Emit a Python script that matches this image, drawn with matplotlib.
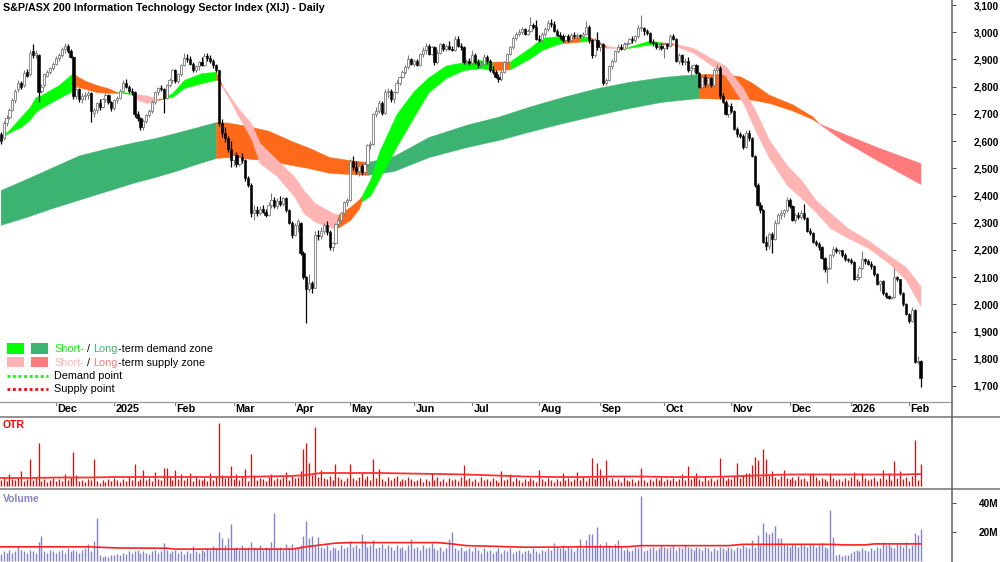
import numpy as np
import pandas as pd
import matplotlib
matplotlib.use('Agg')
import matplotlib.pyplot as plt
from matplotlib import font_manager
from matplotlib.lines import Line2D
from matplotlib.patches import Rectangle

# ---------------- data ----------------
title = "S&P/ASX 200 Information Technology Sector Index (XIJ) - Daily"
start_date, end_date = '2024-11-05', '2026-02-06'
asx_holidays = ['2024-12-25', '2024-12-26', '2025-01-01', '2025-01-27', '2025-04-18',
                '2025-04-21', '2025-04-25', '2025-06-09', '2025-12-25', '2025-12-26',
                '2026-01-01', '2026-01-26']

opens = [2625,2610,2665,2690,2715,2750,2790,2815,2805,2855,
         2845,2930,2915,2915,2785,2805,2840,2855,2868,2885,
         2905,2915,2940,2950,2930,2910,2765,2790,2755,2765,
         2770,2775,2705,2715,2740,2725,2755,2770,2745,2720,
         2750,2760,2785,2815,2800,2785,2780,2700,2685,2650,
         2672,2695,2712,2745,2780,2795,2790,2760,2805,2825,
         2860,2820,2845,2880,2905,2900,2885,2860,2875,2890,
         2880,2912,2905,2895,2880,2860,2665,2630,2610,2570,
         2530,2550,2515,2540,2530,2465,2440,2335,2345,2335,
         2350,2340,2330,2365,2385,2360,2380,2370,2390,2345,
         2300,2255,2290,2300,2190,2100,2055,2080,2060,2255,
         2250,2270,2290,2265,2210,2225,2295,2310,2335,2375,
         2385,2525,2505,2490,2510,2485,2515,2585,2590,2700,
         2712,2740,2705,2780,2785,2755,2780,2815,2835,2855,
         2872,2900,2885,2895,2880,2920,2935,2950,2920,2945,
         2890,2925,2955,2938,2950,2940,2935,2975,2950,2945,
         2890,2895,2888,2915,2890,2880,2885,2910,2895,2860,
         2855,2835,2828,2855,2890,2920,2945,2980,2995,3000,
         3010,2995,3005,3025,3020,2975,2970,2995,3012,3035,
         3030,3005,2990,2985,2972,2985,2970,2990,2985,2990,
         2985,2995,3020,2970,2915,2970,2945,2955,2815,2825,
         2875,2895,2930,2945,2940,2955,2960,2975,2970,2985,
         3015,3015,3005,2998,2965,2960,2945,2950,2942,2955,
         2950,2985,2975,2895,2915,2890,2895,2862,2870,2880,
         2850,2800,2835,2810,2830,2805,2860,2870,2765,2745,
         2700,2730,2710,2645,2625,2620,2578,2630,2610,2545,
         2440,2365,2345,2230,2215,2260,2240,2300,2330,2335,
         2345,2385,2360,2310,2330,2320,2335,2318,2270,2262,
         2230,2222,2210,2170,2130,2135,2180,2205,2195,2198,
         2180,2165,2162,2155,2095,2100,2135,2165,2160,2150,
         2140,2110,2075,2085,2040,2030,2025,2028,2100,2092,
         2040,2000,1965,1940,1980,1790,1792]

highs = [2635,2672,2695,2722,2760,2790,2825,2822,2860,2865,
         2935,2955,2935,2920,2810,2850,2862,2872,2892,2912,
         2925,2945,2962,2955,2938,2912,2795,2795,2775,2780,
         2785,2780,2720,2745,2755,2760,2775,2772,2748,2755,
         2765,2790,2825,2828,2805,2795,2785,2712,2690,2680,
         2700,2718,2750,2785,2800,2805,2795,2810,2830,2865,
         2865,2850,2885,2925,2920,2912,2890,2880,2895,2910,
         2922,2925,2915,2900,2885,2862,2680,2650,2620,2600,
         2560,2560,2545,2555,2535,2470,2445,2365,2360,2360,
         2365,2350,2375,2410,2395,2390,2400,2395,2395,2350,
         2305,2300,2315,2302,2195,2105,2110,2085,2270,2275,
         2285,2300,2305,2275,2230,2300,2320,2340,2380,2390,
         2535,2545,2525,2520,2515,2525,2590,2600,2705,2725,
         2750,2748,2790,2795,2790,2785,2825,2840,2860,2880,
         2915,2905,2900,2900,2925,2945,2960,2955,2950,2950,
         2935,2962,2960,2955,2968,2950,2985,2985,2960,2950,
         2900,2905,2935,2925,2900,2895,2920,2915,2900,2875,
         2860,2845,2860,2895,2925,2950,2985,3000,3010,3018,
         3015,3012,3055,3035,3045,2990,3000,3018,3045,3048,
         3040,3010,3000,2995,2990,2992,2998,3000,2998,2995,
         3000,3040,3025,2975,2980,3000,2965,2960,2830,2880,
         2900,2935,2955,2955,2965,2965,2980,2985,2990,3025,
         3062,3020,3010,3000,2975,2965,2960,2962,2960,2962,
         2995,2995,2978,2925,2920,2905,2910,2880,2885,2885,
         2855,2840,2845,2835,2835,2870,2885,2875,2775,2750,
         2735,2740,2715,2650,2635,2625,2640,2640,2615,2550,
         2445,2375,2350,2250,2265,2265,2310,2335,2345,2350,
         2395,2390,2365,2335,2340,2345,2370,2320,2280,2265,
         2235,2228,2215,2175,2140,2185,2215,2212,2205,2200,
         2190,2172,2170,2160,2110,2140,2195,2170,2168,2160,
         2145,2115,2090,2090,2045,2035,2030,2135,2105,2095,
         2045,2005,1970,1990,1982,1810,1795]

lows = [2590,2605,2655,2680,2710,2740,2780,2790,2800,2835,
        2840,2905,2905,2745,2775,2800,2835,2845,2860,2880,
        2895,2910,2925,2925,2905,2755,2755,2745,2740,2750,
        2755,2670,2690,2705,2715,2720,2745,2735,2710,2715,
        2740,2755,2780,2795,2775,2770,2690,2675,2640,2640,
        2665,2690,2705,2735,2770,2785,2705,2755,2800,2815,
        2815,2815,2840,2875,2890,2880,2855,2852,2860,2875,
        2875,2895,2888,2870,2855,2655,2615,2595,2560,2505,
        2510,2505,2510,2520,2455,2430,2320,2310,2325,2330,
        2335,2320,2325,2355,2355,2350,2360,2360,2340,2295,
        2245,2250,2265,2180,2095,1930,2045,2040,2060,2235,
        2240,2260,2255,2200,2195,2220,2285,2300,2330,2360,
        2380,2495,2480,2470,2475,2475,2505,2570,2585,2690,
        2705,2695,2700,2760,2745,2740,2775,2805,2830,2845,
        2865,2880,2875,2875,2875,2910,2920,2915,2915,2880,
        2885,2920,2930,2930,2935,2930,2930,2945,2935,2885,
        2880,2880,2880,2885,2870,2870,2880,2885,2855,2845,
        2830,2818,2822,2850,2885,2915,2940,2970,2985,2992,
        2990,2988,3000,3010,2970,2965,2962,2985,3005,3020,
        3000,2985,2975,2965,2965,2965,2965,2980,2975,2978,
        2980,2990,2960,2905,2910,2935,2930,2805,2805,2820,
        2865,2890,2925,2935,2935,2945,2955,2962,2965,2980,
        3005,2990,2990,2960,2950,2940,2935,2935,2905,2940,
        2945,2970,2890,2885,2880,2880,2855,2830,2855,2845,
        2795,2795,2800,2795,2800,2800,2850,2755,2740,2695,
        2690,2705,2640,2615,2610,2570,2575,2600,2540,2430,
        2360,2335,2225,2200,2205,2190,2235,2295,2315,2320,
        2340,2355,2305,2300,2315,2315,2310,2265,2255,2225,
        2215,2200,2165,2120,2078,2130,2175,2190,2185,2175,
        2160,2155,2150,2090,2085,2095,2130,2150,2145,2130,
        2105,2070,2050,2035,2025,2018,2020,2025,2085,2035,
        1995,1960,1930,1935,1785,1780,1697]

closes = [2600,2665,2685,2715,2750,2785,2815,2800,2850,2840,
          2925,2915,2925,2780,2800,2845,2855,2868,2885,2905,
          2915,2940,2948,2930,2910,2765,2790,2755,2765,2770,
          2775,2710,2715,2740,2725,2755,2770,2745,2720,2750,
          2760,2785,2815,2800,2785,2780,2700,2685,2650,2672,
          2695,2712,2745,2780,2795,2790,2760,2805,2825,2860,
          2820,2845,2880,2905,2900,2885,2860,2875,2890,2880,
          2912,2905,2895,2880,2860,2665,2630,2610,2570,2530,
          2550,2515,2540,2530,2465,2440,2335,2345,2335,2350,
          2340,2330,2365,2385,2360,2380,2370,2390,2345,2300,
          2255,2290,2305,2190,2100,2055,2080,2060,2255,2250,
          2270,2290,2265,2210,2225,2295,2310,2335,2375,2385,
          2525,2505,2490,2510,2485,2515,2585,2590,2700,2712,
          2740,2705,2780,2785,2755,2780,2815,2835,2855,2872,
          2900,2885,2895,2880,2920,2935,2950,2920,2945,2890,
          2925,2955,2938,2950,2940,2935,2975,2950,2945,2890,
          2895,2888,2915,2890,2880,2885,2910,2895,2860,2855,
          2835,2828,2855,2890,2920,2945,2980,2995,3000,3010,
          2995,3005,3025,3020,2975,2970,2995,3012,3035,3030,
          3005,2990,2985,2972,2985,2970,2990,2985,2990,2985,
          2995,3020,2970,2915,2970,2945,2955,2815,2825,2875,
          2895,2930,2945,2940,2955,2960,2975,2970,2985,3015,
          3015,3005,2998,2965,2960,2945,2950,2942,2955,2950,
          2985,2975,2895,2915,2890,2895,2862,2870,2880,2850,
          2800,2835,2810,2830,2805,2860,2870,2765,2745,2700,
          2730,2710,2645,2625,2620,2578,2630,2610,2545,2440,
          2365,2345,2230,2215,2260,2240,2300,2330,2335,2345,
          2385,2360,2310,2330,2320,2335,2318,2270,2262,2230,
          2222,2210,2170,2130,2135,2180,2205,2195,2198,2180,
          2165,2162,2155,2095,2100,2135,2165,2160,2150,2140,
          2110,2075,2085,2040,2030,2025,2028,2100,2092,2040,
          2000,1965,1940,1980,1790,1792,1730]

price_ticks = [1700, 1800, 1900, 2000, 2100, 2200, 2300, 2400, 2500, 2600, 2700, 2800, 2900, 3000, 3100]

# short-term zone (trading-day index, upper edge, lower edge, state of the following stretch)
st_idx = [0,1,3,7,10,12,14,17,20,24,25,26,29,33,37,40,43,45,47,50,
          52,54,56,57,59,63,69,74,75,76,79,82,86,89,95,101,104,108,111,114,
          116,120,123,124,127,130,136,142,147,153,159,165,169,175,182,186,191,193,199,202,
          208,212,215,223,227,231,238,244,249,255,260,264,270,275,280,285,291,298,305,311,316]
st_top = [2618,2625,2642,2690,2725,2762,2769,2788,2806,2843,2850,2840,2822,2806,2794,2780,2779,2776,2772,2768,
          2762,2756,2757,2765,2777,2825,2850,2855,2830,2808,2760,2715,2666,2593,2530,2468,2420,2372,2354,2336,
          2330,2358,2385,2398,2460,2560,2700,2785,2835,2878,2890,2898,2892,2893,2945,2980,2985,2985,2982,2985,
          2950,2945,2944,2970,2963,2960,2942,2905,2876,2795,2696,2604,2512,2457,2383,2336,2280,2236,2181,2137,2067]
st_bot = [2612,2618,2632,2652,2678,2707,2722,2740,2758,2780,2795,2800,2792,2780,2777,2777,2775,2773,2752,2740,
          2744,2751,2755,2760,2762,2795,2813,2825,2822,2800,2745,2685,2610,2519,2470,2394,2336,2303,2292,2280,
          2282,2310,2350,2378,2400,2460,2580,2690,2780,2832,2861,2868,2860,2864,2905,2935,2955,2960,2965,2968,
          2943,2940,2941,2955,2955,2953,2924,2880,2839,2740,2622,2538,2439,2391,2339,2280,2244,2207,2152,2089,1994]
st_state = list("oggggggggg" "oooooggppp" "pogggggoop" "pppppppppp"
                "oooggggggg" "ggoggggogo" "poggoppppp" "ppppppppppp")

# long-term zone
lt_idx = [0,9,18,27,36,45,53,60,67,74,78,85,92,100,106,113,120,126,135,147,
          160,171,182,193,205,216,227,234,240,247,254,258,264,272,279,281,289,301,316]
lt_top = [2420,2462,2505,2548,2572,2594,2611,2630,2650,2670,2668,2655,2638,2600,2575,2541,2530,2523,2545,2615,
          2660,2690,2728,2762,2795,2818,2835,2842,2846,2848,2838,2815,2770,2735,2690,2665,2630,2578,2519]
lt_bot = [2292,2322,2355,2385,2415,2445,2468,2490,2515,2538,2541,2536,2528,2512,2500,2483,2479,2476,2490,2541,
          2578,2604,2636,2666,2696,2722,2744,2752,2758,2756,2754,2752,2740,2712,2680,2665,2604,2530,2442]
lt_state = list("ddddddddd" "oooooooo" "ddddddddddd" "ooooooo" "rrrr")

otr = [6,8,5,12,7,6,9,15,5,7,27,6,8,43,5,7,4,6,8,5,
       7,5,12,6,9,34,11,5,6,4,7,6,27,5,3,6,4,7,5,8,
       6,4,7,5,9,6,22,5,7,16,6,8,5,14,7,6,18,18,9,6,
       16,7,12,6,8,13,5,9,7,6,8,5,13,6,9,63,11,8,10,20,
       7,12,6,9,17,5,32,11,6,8,7,5,9,12,6,8,7,9,14,6,
       10,8,9,15,37,43,23,11,59,9,16,8,7,10,6,22,9,7,5,8,
       22,8,6,9,13,7,10,6,27,8,17,7,5,9,6,8,10,5,7,6,
       9,7,5,6,8,4,7,5,13,6,9,5,7,4,8,6,7,5,9,21,
       6,8,5,7,4,9,6,7,5,8,6,4,15,6,7,12,5,8,6,4,
       7,5,8,6,4,16,7,5,8,6,4,7,5,13,6,8,5,7,14,6,
       9,5,8,28,7,23,17,9,26,6,8,5,7,4,9,6,5,7,4,6,
       18,6,4,7,5,8,6,9,5,7,6,8,5,7,12,6,20,7,9,13,
       7,5,9,6,8,5,7,28,9,6,8,7,10,23,8,11,13,13,21,29,
       26,9,37,27,11,15,9,7,10,16,8,7,9,6,10,7,8,5,13,13,
       9,6,8,7,5,13,8,6,7,5,8,6,9,14,7,5,13,8,6,7,
       9,5,8,16,7,13,6,25,8,15,7,9,5,10,46,6,22]
otr_avg_idx = [0,10,20,30,40,50,60,70,80,90,100,105,110,120,130,140,150,160,170,180,
               190,200,210,220,230,240,250,260,270,280,290,300,310,316]
otr_avg = [8,8,8.5,8.5,9,9,9,9,9,9.5,10,11,13,13,13,12.5,12,11.5,10.5,9.5,
           9,9,9.5,9.5,9,9,9.5,10.5,11.5,11.5,11.5,11.5,11.5,12]

volume_m = [5,7,6,8,6,7,10.6,8,7,6,8,7,6,13.6,17.5,7,6,8,7,6,
            7,8,6,9,7,8,7,6,8,9,12,7,14,29.7,4,3,3.5,3,4,4.5,
            5,4,6,5,7,6,7,8,6,7,6,5,7,8,6,7,12.4,8,6,7,
            8,6,7,5,7,6,10.6,7,6,8,7,9,8,10.6,9,20.5,16.3,11,15.9,25.5,
            9,10,8,11,9,10,13.6,10,9,11,8,10,9,13.6,33.6,9,10,8,12,10,
            12,9,10,11,17.5,28,15.9,17.5,11,16.6,10,9,11,8,10,9,8,11,9,10,
            14,10,11,9,18.9,14,10,11,14.7,9,10,12,9,11,10,8,11,9,10,8,
            11,15.2,9,10,8,11,9,10,12.9,9,8,10,7,9,15.2,20.5,9,8,10,7,
            8,9,7,10,8,6,9,7,8,6,7,9,6,8,7,9,6,7,8,6,
            7,8,6,9,7,6,8,7,9,8,12.9,10,9,11,8,10,9,7,10,15.2,
            9,14.7,18.9,18.9,11,23.4,12,10,13,11,9,12,15,10,8,9,7,8,10,9,
            45,7,8,9,10,8,9,11,10,9,10,11,8,10,9,11,10,9,8,10,
            9,8,10,9,7,9,8,10,9,8,10,9,8,10,9,11,10,9,14.7,10,
            18,11,26.7,20,19,20,24.4,16,16,12,11,10,12,11,10,12,11,10,12,11,
            10,11,12.9,10,9,35.4,17,4,5,3.5,4,4.5,6,7,8,7,9,8,7,9,
            8,10,9,13,11,12,10,9,12,11,10,13,9,11,19.8,18,22]
vol_avg_idx = [0,30,40,57,60,100,105,110,115,120,150,155,160,170,180,190,200,215,220,250,
               255,285,290,297,300,316]
vol_avg = [10,10,9.2,9,8.4,8.4,10,11.3,12.5,12.9,12.9,12,10.8,10.3,9.7,9.8,10,10,10.8,10.8,
           11.7,11.7,11.3,11.3,12,12]
vol_ticks = [20, 40]

# ---------------- style ----------------
names = {f.name for f in font_manager.fontManager.ttflist}
if 'Liberation Sans Narrow' in names:
    FAM = 'Liberation Sans Narrow'
elif 'Liberation Sans' in names:
    FAM = 'Liberation Sans'
else:
    FAM = 'DejaVu Sans'
plt.rcParams['font.family'] = [FAM, 'DejaVu Sans']

COL = {'g': '#00FF00', 'd': '#3CB371', 'p': '#FFB4B4', 'r': '#FF7A7A', 'o': '#FF6A1A'}
VOLC = '#8383CC'

W, H = 1000, 562
fig = plt.figure(figsize=(W / 100, H / 100), dpi=100)
fig.patch.set_facecolor('white')
renderer = fig.canvas.get_renderer()


def rect(x0, y0, x1, y1):
    return [x0 / W, 1 - y1 / H, (x1 - x0) / W, (y1 - y0) / H]


def fx(px):
    return px / W


def fy(py):
    return 1 - py / H


def text_w(s, size, weight='normal'):
    t = fig.text(0, 0, 'I' + s + 'I', fontsize=size, fontweight=weight)
    w1 = t.get_window_extent(renderer).width
    t.set_text('II')
    w2 = t.get_window_extent(renderer).width
    t.remove()
    return w1 - w2


def fit(s, target, weight='normal', k=1.05):
    return k * 10.0 * target / text_w(s, 10, weight)


fs_title = fit(title, 305, 'bold')
fs_tick = fit('3,100', 24, 'bold')
fs_month = fit('Dec', 19, 'bold')
fs_leg = fit('Short- / Long-term demand zone', 150)
fs_panel = fit('Volume', 35, 'bold')

AX_R = 952
ax = fig.add_axes(rect(0, 0, AX_R, 402))
dax = fig.add_axes(rect(0, 402, AX_R, 416))
oax = fig.add_axes(rect(0, 416, AX_R, 489))
vax = fig.add_axes(rect(0, 489, AX_R, 562))

N = len(closes)
x = np.arange(N)
XL, XR = -0.2405, 326.8
for a in (ax, dax, oax, vax):
    a.set_xlim(XL, XR)
    a.set_xticks([])
    for s in a.spines.values():
        s.set_visible(False)
    a.patch.set_alpha(0)

ax.set_ylim(1641.2, 3118.4)


def draw_ribbon(idx, top, bot, state, z):
    idx = np.asarray(idx, float)
    top = np.asarray(top, float)
    bot = np.asarray(bot, float)
    n = len(idx)
    k = 0
    while k < n - 1:
        j = k
        while j + 1 < n - 1 and state[j + 1] == state[k]:
            j += 1
        sl = slice(k, j + 2)
        c = COL[state[k]]
        ax.fill_between(idx[sl], top[sl], bot[sl], facecolor=c, edgecolor=c, lw=0.3, zorder=z)
        k = j + 1


draw_ribbon(lt_idx, lt_top, lt_bot, lt_state, 1)
draw_ribbon(st_idx, st_top, st_bot, st_state, 2)

o = np.array(opens, float)
h = np.array(highs, float)
l = np.array(lows, float)
c = np.array(closes, float)
up = c >= o
ax.vlines(x[up], l[up], h[up], colors='#7A7A7A', lw=0.8, zorder=3)
ax.vlines(x[~up], l[~up], h[~up], colors='black', lw=0.9, zorder=3)
blo = np.minimum(o, c)
bh = np.maximum(np.abs(c - o), 3.5)
ax.bar(x[up], bh[up], bottom=blo[up], width=0.76, color='white', edgecolor='#7A7A7A', lw=0.6, zorder=4)
ax.bar(x[~up], bh[~up], bottom=blo[~up], width=0.76, color='black', edgecolor='black', lw=0.4, zorder=4)

ax.yaxis.tick_right()
ax.set_yticks(price_ticks)
ax.set_yticklabels([f'{v:,}' for v in price_ticks])
ax.tick_params(axis='y', direction='out', length=3, width=0.8, color='#555555', pad=12.5,
               labelsize=fs_tick)
for lb in ax.get_yticklabels():
    lb.set_fontweight('bold')

# date strip
dates = pd.bdate_range(start_date, end_date)
dates = dates[~dates.isin(pd.to_datetime(asx_holidays))]
dax.set_ylim(14, 0)
dax.set_yticks([])
for k in range(1, min(len(dates), N)):
    if dates[k].month != dates[k - 1].month:
        lab = str(dates[k].year) if dates[k].month == 1 else dates[k].strftime('%b')
        dax.plot([k, k], [0, 3], color='#808080', lw=0.8)
        dax.text(k + 0.45, 7.4, lab, ha='left', va='center', fontsize=fs_month, fontweight='bold')

# OTR panel
oax.set_ylim(-3, 70)
oax.set_yticks([])
oax.vlines(x, 0, otr, colors='#FF0000', lw=0.9)
oax.plot(otr_avg_idx, otr_avg, color='#FF3030', lw=1.3)

# volume panel
vax.set_ylim(-0.5, 49.9)
vax.vlines(x, 0, volume_m, colors=VOLC, lw=1.0)
vax.plot(vol_avg_idx, vol_avg, color='#FF2020', lw=1.2)
vax.yaxis.tick_right()
vax.set_yticks(vol_ticks)
vax.set_yticklabels([f'{v}M' for v in vol_ticks])
vax.tick_params(axis='y', direction='out', length=3, width=0.8, color='#555555', pad=16,
                labelsize=fs_tick)
for lb in vax.get_yticklabels():
    lb.set_fontweight('bold')

# frame lines
fig.add_artist(Line2D([0, fx(AX_R)], [fy(402), fy(402)], color='#999999', lw=0.9))
fig.add_artist(Line2D([0, 1], [fy(416.5), fy(416.5)], color='#888888', lw=1.3))
fig.add_artist(Line2D([0, 1], [fy(489), fy(489)], color='#888888', lw=1.3))
fig.add_artist(Line2D([fx(AX_R), fx(AX_R)], [0, 1], color='#606060', lw=1.1))

# texts
fig.text(fx(3), fy(8), title, ha='left', va='center', fontsize=fs_title, fontweight='bold')
fig.text(fx(3), fy(425), 'OTR', ha='left', va='center', fontsize=fs_panel, fontweight='bold', color='#FF0000')
fig.text(fx(3), fy(499), 'Volume', ha='left', va='center', fontsize=fs_panel, fontweight='bold', color='#8585C8')

# legend
for (x0, y0, x1, y1, cc) in [(7, 343, 24, 354, COL['g']), (31, 343, 48, 354, COL['d']),
                             (7, 357, 24, 367, COL['p']), (31, 357, 48, 367, COL['r'])]:
    fig.add_artist(Rectangle((fx(x0), fy(y1)), (x1 - x0) / W, (y1 - y0) / H,
                             transform=fig.transFigure, facecolor=cc, edgecolor='none'))
fig.add_artist(Line2D([fx(7), fx(48)], [fy(376), fy(376)], color='#00FF00', lw=2,
                      linestyle=(0, (1, 1))))
fig.add_artist(Line2D([fx(7), fx(48)], [fy(389), fy(389)], color='#FF0000', lw=2,
                      linestyle=(0, (1, 1))))


def parts_text(x_px, y_px, parts):
    xx = x_px
    for s, cc in parts:
        fig.text(fx(xx), fy(y_px), s, ha='left', va='center', fontsize=fs_leg, color=cc)
        xx += text_w(s, fs_leg)


parts_text(54.5, 349, [('Short-', COL['g']), (' / ', 'black'), ('Long', COL['d']), ('-term demand zone', 'black')])
parts_text(54.5, 362.5, [('Short-', COL['p']), (' / ', 'black'), ('Long', COL['r']), ('-term supply zone', 'black')])
parts_text(54.5, 376, [('Demand point', 'black')])
parts_text(54.5, 389, [('Supply point', 'black')])

fig.savefig('out.png', dpi=100, facecolor='white')
